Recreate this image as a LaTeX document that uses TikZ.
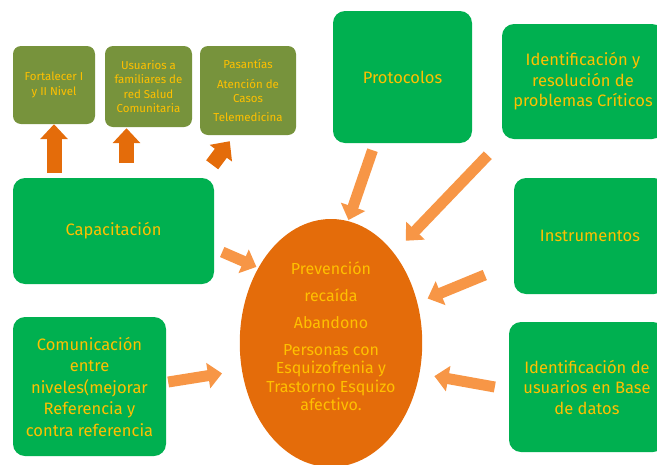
\documentclass[tikz,border=0pt]{standalone}
\usepackage{fontspec}
\setmainfont{Fira Sans}
\usepackage{tikz}
\usetikzlibrary{shapes.geometric, arrows.meta, positioning}
\definecolor{boxgreen}{HTML}{00B050}
\definecolor{boxolive}{HTML}{77933C}
\definecolor{txtyellow}{HTML}{FFC000}
\definecolor{ovalorange}{HTML}{E46C0A}
\definecolor{arrlight}{HTML}{F79646}

\begin{document}
\begin{tikzpicture}[x=1pt, y=-1pt,
  box/.style={fill=boxgreen, rounded corners=12pt, align=center, text=txtyellow,
              font=\fontsize{16.5}{20.5}\selectfont, inner sep=0pt},
  small/.style={fill=boxolive, rounded corners=8pt, align=center, text=txtyellow,
                font=\fontsize{11.5}{14.5}\selectfont, inner sep=0pt},
  uparr/.style={draw=ovalorange, line width=15pt, -{Triangle[length=15pt, width=27pt]}},
  arr/.style={draw=arrlight, line width=11pt, -{Triangle[length=14pt, width=25pt]}}]
  \useasboundingbox (0,0) rectangle (657,464);
  \clip (0,0) rectangle (657,464);
  \node[small, minimum width=82pt, minimum height=78pt] (fort) at (54,85)
    {Fortalecer I\\ y II Nivel};
  \node[small, minimum width=87pt, minimum height=81pt] (usu) at (148.5,86.5)
    {Usuarios a\\ familiares de\\ red Salud\\ Comunitaria};
  \node[small, minimum width=96pt, minimum height=89pt] (pas) at (248,90.5)
    {Pasantías\\[5pt] Atención de\\ Casos\\[4pt] Telemedicina};
  \node[box, minimum width=139pt, minimum height=132pt] (prot) at (402.5,77)
    {Protocolos};
  \node[box, minimum width=162pt, minimum height=115pt] (ident) at (583,81.5)
    {Identificación y\\ resolución de\\ problemas Críticos};
  \node[box, minimum width=201pt, minimum height=106pt] (cap) at (113.5,231)
    {Capacitación};
  \node[box, minimum width=153pt, minimum height=139pt, font=\fontsize{16.5}{21.5}\selectfont]
    (comu) at (89.5,386.5)
    {Comunicación\\ entre\\ niveles(mejorar\\ Referencia y\\ contra referencia};
  \node[box, minimum width=152pt, minimum height=116pt] (instr) at (590,236)
    {Instrumentos};
  \node[box, minimum width=156pt, minimum height=130pt] (idus) at (587,387)
    {Identificación de\\ usuarios en Base\\ de datos};
  \node[ellipse, fill=ovalorange, minimum width=179pt, minimum height=248pt, inner sep=0pt,
        align=center, text=txtyellow, text depth=14pt, font=\fontsize{16}{18.5}\selectfont]
    (ell) at (331,343)
    {Prevención\\[8.5pt] recaída\\[8.5pt] Abandono\\[8.5pt] Personas con\\ Esquizofrenia y\\
     Trastorno Esquizo\\ afectivo.};
  \draw[uparr, shorten <=5pt] (fort.south |- cap.north) -- (fort.south);
  \draw[uparr] ([shift={(-22,36)}]usu.south) -- ([shift={(-22,1)}]usu.south);
  \draw[uparr] ([shift={(-2,-13)}]cap.north east) -- ([shift={(30,6)}]pas.south west);
  \draw[arr, shorten >=1pt] ([shift={(-30,7)}]prot.south) -- (ell.82);
  \draw[arr, shorten >=17pt] ([shift={(-14,16)}]ident.south west) -- (ell.55);
  \draw[arr, shorten >=2pt] ([shift={(8,21)}]cap.east) -- (ell.134);
  \draw[arr, shorten >=11pt] ([shift={(-29,39)}]instr.west) -- (ell.25);
  \draw[arr, shorten >=15pt] ([xshift=-14pt]idus.west) -- (ell.-19);
  \draw[arr, shorten >=20pt] ([shift={(2,-4.5)}]comu.east) -- (ell.197);
\end{tikzpicture}
\end{document}
